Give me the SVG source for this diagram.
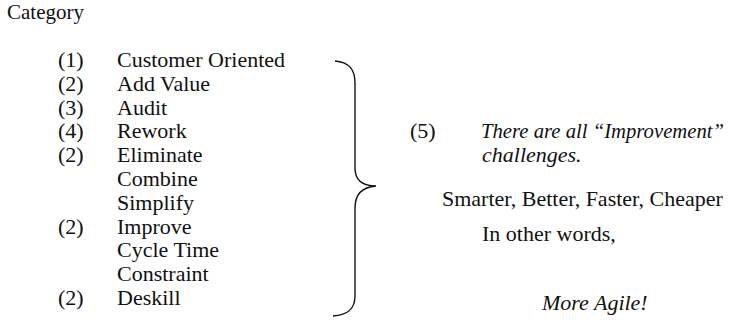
<svg xmlns="http://www.w3.org/2000/svg" width="732" height="320" viewBox="0 0 732 320">
<style>
text{font-family:"Liberation Serif","Times New Roman",serif;font-size:22px;fill:#111}
.it{font-style:italic}
.brace{fill:none;stroke:#111;stroke-width:1.4}
</style>
<rect width="732" height="320" fill="#fff"/>
<g id="title"><text x="7" y="19" style="font-size:21px">Category</text></g>
<g id="list">
<text x="58" y="67">(1)</text><text x="117" y="67">Customer Oriented</text>
<text x="58" y="90.8">(2)</text><text x="117" y="90.8">Add Value</text>
<text x="58" y="114.6">(3)</text><text x="117" y="114.6">Audit</text>
<text x="58" y="138.4">(4)</text><text x="117" y="138.4">Rework</text>
<text x="58" y="162.2">(2)</text><text x="117" y="162.2">Eliminate</text>
<text x="117" y="186">Combine</text>
<text x="117" y="209.8">Simplify</text>
<text x="58" y="233.6">(2)</text><text x="117" y="233.6">Improve</text>
<text x="117" y="257.4">Cycle Time</text>
<text x="117" y="281.2">Constraint</text>
<text x="58" y="305">(2)</text><text x="117" y="305">Deskill</text>
</g>
<g id="connectors">
<path class="brace" d="M335,61 C348,62 355,68 355,83 L355,168 C355,180 362,186 376,186 C362,187 355,195 355,208 L355,296 C355,309 348,315 333,316"/>
</g>
<g id="summary">
<text x="410" y="138">(5)</text>
<text class="it" x="481" y="138" style="font-size:20.7px">There are all “Improvement”</text>
<text class="it" x="482" y="162">challenges.</text>
<text x="442" y="206">Smarter, Better, Faster, Cheaper</text>
<text x="482" y="241">In other words,</text>
<text class="it" x="542" y="310">More Agile!</text>
</g>
</svg>
